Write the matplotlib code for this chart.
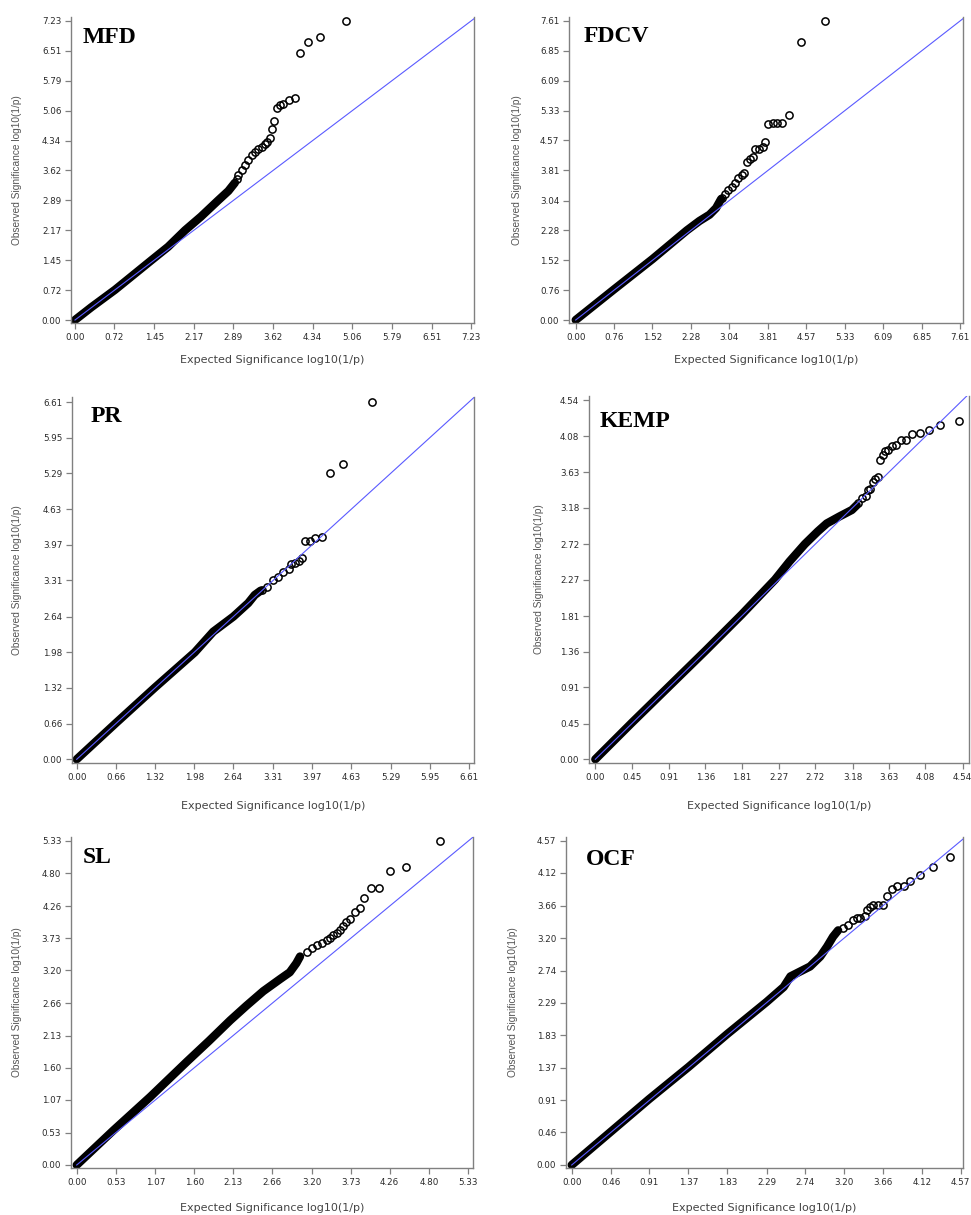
# QQ plots (observed vs expected -log10 p) for six traits

import matplotlib.pyplot as plt
import numpy as np

# panel names
names = ['MFD', 'FDCV', 'PR', 'KEMP', 'SL', 'OCF']

# tick values of each panel (0 .. max in ten steps)
mfd_ticks = [0.00, 0.72, 1.45, 2.17, 2.89, 3.62, 4.34, 5.06, 5.79, 6.51, 7.23]
fdcv_ticks = [0.00, 0.76, 1.52, 2.28, 3.04, 3.81, 4.57, 5.33, 6.09, 6.85, 7.61]
pr_ticks = [0.00, 0.66, 1.32, 1.98, 2.64, 3.31, 3.97, 4.63, 5.29, 5.95, 6.61]
kemp_ticks = [0.00, 0.45, 0.91, 1.36, 1.81, 2.27, 2.72, 3.18, 3.63, 4.08, 4.54]
sl_ticks = [0.00, 0.53, 1.07, 1.60, 2.13, 2.66, 3.20, 3.73, 4.26, 4.80, 5.33]
ocf_ticks = [0.00, 0.46, 0.91, 1.37, 1.83, 2.29, 2.74, 3.20, 3.66, 4.12, 4.57]

# dense part of the points (drawn as a solid band)
mfd_band_x = [0, 0.30, 0.73, 1.00, 1.40, 1.70, 2.01, 2.30, 2.62, 2.80, 2.92]
mfd_band_y = [0, 0.31, 0.73, 1.02, 1.45, 1.77, 2.17, 2.50, 2.90, 3.12, 3.32]
fdcv_band_x = [0, 0.76, 1.52, 2.20, 2.45, 2.65, 2.78, 2.88]
fdcv_band_y = [0, 0.78, 1.55, 2.28, 2.52, 2.68, 2.85, 3.08]
pr_band_x = [0, 0.66, 1.32, 1.99, 2.30, 2.64, 2.89, 3.00, 3.10]
pr_band_y = [0, 0.67, 1.33, 1.98, 2.36, 2.64, 2.89, 3.04, 3.12]
kemp_band_x = [0, 0.45, 0.91, 1.36, 1.81, 2.22, 2.40, 2.59, 2.75, 2.86, 3.02, 3.17, 3.23]
kemp_band_y = [0, 0.46, 0.92, 1.37, 1.83, 2.27, 2.50, 2.72, 2.88, 2.98, 3.07, 3.15, 3.21]
sl_band_x = [0, 0.50, 1.00, 1.50, 1.80, 2.09, 2.31, 2.54, 2.77, 2.90, 2.99, 3.04]
sl_band_y = [0, 0.57, 1.12, 1.70, 2.04, 2.38, 2.62, 2.86, 3.06, 3.17, 3.32, 3.43]
ocf_band_x = [0, 0.46, 0.91, 1.37, 1.83, 2.29, 2.49, 2.57, 2.80, 2.92, 3.00, 3.07, 3.13]
ocf_band_y = [0, 0.47, 0.93, 1.38, 1.85, 2.30, 2.51, 2.66, 2.80, 2.94, 3.08, 3.22, 3.31]

# sparse tail (open circles)
mfd_tail_x = [2.95, 2.98, 3.04, 3.10, 3.16, 3.23, 3.29, 3.35, 3.41, 3.47, 3.51, 3.56,
              3.59, 3.64, 3.68, 3.74, 3.80, 3.91, 4.02, 4.11, 4.26, 4.47, 4.95]
mfd_tail_y = [3.42, 3.51, 3.63, 3.75, 3.87, 3.99, 4.06, 4.13, 4.19, 4.26, 4.31, 4.39,
              4.63, 4.81, 5.13, 5.19, 5.23, 5.32, 5.38, 6.45, 6.72, 6.84, 7.23]
fdcv_tail_x = [2.89, 2.96, 3.02, 3.09, 3.15, 3.22, 3.29, 3.34, 3.39, 3.45, 3.52, 3.56,
               3.63, 3.70, 3.75, 3.81, 3.90, 3.99, 4.08, 4.23, 4.46, 4.94]
fdcv_tail_y = [3.10, 3.21, 3.31, 3.39, 3.48, 3.61, 3.69, 3.75, 4.03, 4.11, 4.16, 4.34,
               4.36, 4.41, 4.52, 5.00, 5.02, 5.02, 5.02, 5.23, 7.08, 7.61]
pr_tail_x = [3.12, 3.20, 3.31, 3.40, 3.48, 3.57, 3.61, 3.68, 3.75, 3.79, 3.85, 3.93,
             4.02, 4.13, 4.27, 4.49, 4.97]
pr_tail_y = [3.13, 3.19, 3.32, 3.38, 3.47, 3.52, 3.62, 3.64, 3.66, 3.73, 4.04, 4.04,
             4.09, 4.12, 5.29, 5.46, 6.61]
kemp_tail_x = [3.25, 3.29, 3.35, 3.37, 3.40, 3.43, 3.46, 3.49, 3.52, 3.55, 3.58, 3.62,
               3.67, 3.72, 3.78, 3.84, 3.91, 4.01, 4.12, 4.26, 4.49]
kemp_tail_y = [3.24, 3.30, 3.33, 3.40, 3.42, 3.51, 3.54, 3.57, 3.78, 3.84, 3.90, 3.91,
               3.96, 3.97, 4.03, 4.04, 4.11, 4.12, 4.16, 4.23, 4.28]
sl_tail_x = [3.13, 3.20, 3.27, 3.34, 3.40, 3.45, 3.49, 3.54, 3.58, 3.63, 3.67, 3.72,
             3.79, 3.85, 3.91, 4.00, 4.11, 4.26, 4.48, 4.95]
sl_tail_y = [3.51, 3.57, 3.62, 3.66, 3.70, 3.74, 3.78, 3.82, 3.86, 3.93, 4.00, 4.04,
             4.17, 4.22, 4.40, 4.55, 4.55, 4.84, 4.90, 5.33]
ocf_tail_x = [3.19, 3.25, 3.31, 3.35, 3.39, 3.45, 3.47, 3.51, 3.54, 3.60, 3.66, 3.70,
              3.76, 3.82, 3.90, 3.98, 4.09, 4.24, 4.45]
ocf_tail_y = [3.34, 3.39, 3.45, 3.48, 3.49, 3.51, 3.60, 3.64, 3.67, 3.67, 3.67, 3.80,
              3.89, 3.94, 3.94, 4.01, 4.09, 4.20, 4.34]

ticks = [mfd_ticks, fdcv_ticks, pr_ticks, kemp_ticks, sl_ticks, ocf_ticks]
bands = [(mfd_band_x, mfd_band_y), (fdcv_band_x, fdcv_band_y), (pr_band_x, pr_band_y),
         (kemp_band_x, kemp_band_y), (sl_band_x, sl_band_y), (ocf_band_x, ocf_band_y)]
tails = [(mfd_tail_x, mfd_tail_y), (fdcv_tail_x, fdcv_tail_y), (pr_tail_x, pr_tail_y),
         (kemp_tail_x, kemp_tail_y), (sl_tail_x, sl_tail_y), (ocf_tail_x, ocf_tail_y)]

# layout in pixels: axes box (left, right, top, bottom), where tick 0 / tick max sit
W, H = 971, 1215
boxes = [(71, 474, 17, 323), (569, 963, 17, 323), (72, 474, 397, 763),
         (589, 969, 396, 763), (71, 473, 837, 1168), (566, 963, 837, 1168)]
xpix = [(75, 471), (575.7, 960), (76.7, 469), (595.3, 962.7), (76.7, 468.3), (571.7, 960.7)]
ypix = [(320, 21), (320, 21), (759.3, 402), (759.3, 400), (1165, 841), (1165, 841)]
title_pos = [(83, 43), (584, 42), (91, 422), (600, 427), (83, 863), (586, 865)]
ylab_x = [17, 517, 17, 539, 17, 513]
xlab_y = [360, 360, 806, 806, 1208, 1208]

grey = '#808080'
fig = plt.figure(figsize=(W / 100, H / 100), dpi=100)

for i in range(6):
    l, r, t, b = boxes[i]
    ax = fig.add_axes([l / W, 1 - b / H, (r - l) / W, (b - t) / H])
    m = ticks[i][-1]

    # limits so that tick 0 and tick max land where they are in the picture
    x0, xm = xpix[i]
    y0, ym = ypix[i]
    sx = (xm - x0) / m
    sy = (y0 - ym) / m
    ax.set_xlim(-(x0 - l) / sx, m + (r - xm) / sx)
    ax.set_ylim(-(b - y0) / sy, m + (ym - t) / sy)

    # points
    ax.plot(bands[i][0], bands[i][1], color='black', lw=6,
            solid_capstyle='round', solid_joinstyle='round', zorder=2)
    ax.plot(tails[i][0], tails[i][1], 'o', mfc='none', mec='black',
            ms=5.2, mew=1.1, zorder=2)

    # expected line
    ax.plot([0, m * 1.05], [0, m * 1.05], color='#5a5aff', lw=0.8, zorder=3)

    ax.set_xticks(ticks[i])
    ax.set_yticks(ticks[i])
    ax.set_xticklabels(['%.2f' % v for v in ticks[i]])
    ax.set_yticklabels(['%.2f' % v for v in ticks[i]])
    ax.tick_params(direction='out', length=4.5, width=0.9, color=grey,
                   labelsize=6.3, labelcolor='#2a2a2a', pad=2.5)

    ax.spines['top'].set_visible(False)
    for s in ['left', 'bottom', 'right']:
        ax.spines[s].set_color(grey)
        ax.spines[s].set_linewidth(1.0)

    # panel name
    tx, ty = title_pos[i]
    fig.text(tx / W, 1 - ty / H, names[i], fontfamily='Liberation Serif',
             fontweight='bold', fontsize=17, va='baseline', ha='left')

    # axis labels
    fig.text((l + r) / 2 / W, 1 - xlab_y[i] / H, 'Expected Significance log10(1/p)',
             fontsize=8, color='#444444', ha='center', va='center')
    fig.text(ylab_x[i] / W, 1 - (t + b) / 2 / H, 'Observed Significance log10(1/p)',
             fontfamily='Liberation Sans', fontsize=7.3, color='#555555',
             rotation=90, ha='center', va='center')

fig.savefig('out.png', dpi=100)
